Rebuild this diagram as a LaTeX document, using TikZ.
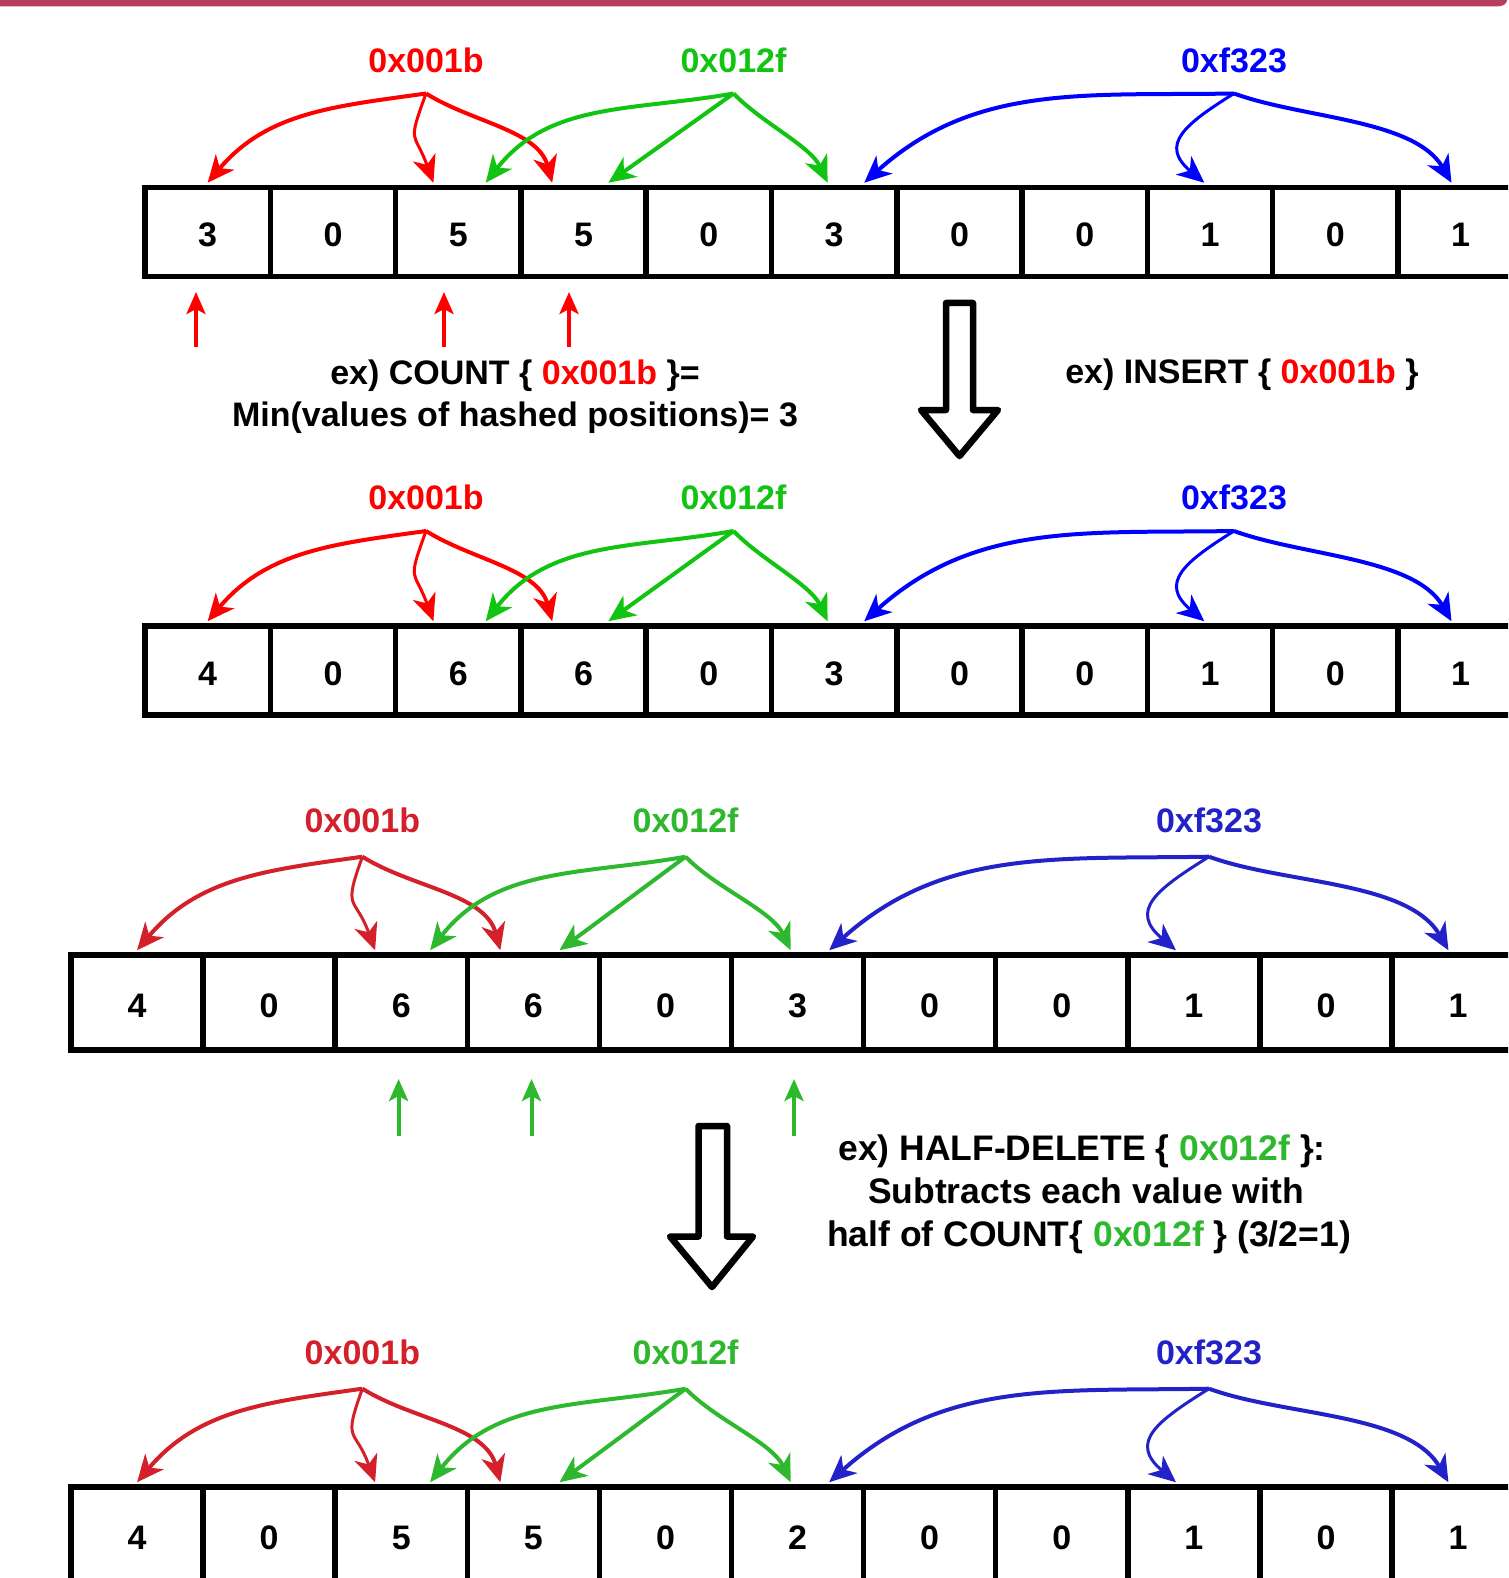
\documentclass[tikz,border=0pt]{standalone}
\usepackage{fontspec}
\setmainfont{Liberation Sans}
\usetikzlibrary{arrows.meta,calc}

\definecolor{barcol}{HTML}{B83D5F}
\definecolor{rA}{HTML}{FF0000}
\definecolor{gA}{HTML}{11C411}
\definecolor{bA}{HTML}{0000FF}
\definecolor{rB}{HTML}{D4202A}
\definecolor{gB}{HTML}{2EB82E}
\definecolor{bB}{HTML}{2222C8}

\tikzset{
  cell/.style={draw, line width=5.5pt, inner sep=0pt, text height=30pt, text depth=0pt,
    font=\fontsize{34}{40}\selectfont\bfseries},
  hlab/.style={font=\fontsize{34}{40}\selectfont\bfseries, inner sep=0pt},
  hasharrow/.style={line width=4pt, -{Stealth[length=27pt,width=24pt,inset=8pt]}},
  uparrow/.style={line width=4pt, -{Stealth[length=22pt,width=19pt,inset=5pt]}},
  bigarrow/.style={draw, line width=6.5pt, line join=round, fill=white},
  caption/.style={font=\fontsize{34}{40}\selectfont\bfseries, inner sep=0pt, anchor=base},
  bigcaption/.style={caption, font=\fontsize{35.5}{40}\selectfont\bfseries},
}

% #1 prefix, #2 left x, #3 cell width, #4 top y, #5 height, #6 values
\newcommand\cellrow[6]{%
  \foreach \v [count=\i from 0] in {#6}{%
    \node[cell, minimum width=#3pt, minimum height=#5pt] (#1c\i) at ({#2+(\i+0.5)*#3},{-#4-#5/2}) {\v};
  }%
}

% #1 prefix, #2 colour set, #3 red x, #4 green x, #5 blue x, #6 source y, #7 label y, #8 blue middle fraction
\newcommand\hashset[8]{%
  \node[hlab,text=r#2] (#1lr) at (#3,-#7) {0x001b};
  \node[hlab,text=g#2] (#1lg) at (#4,-#7) {0x012f};
  \node[hlab,text=b#2] (#1lb) at (#5,-#7) {0xf323};
  \coordinate (#1sr) at (#3,-#6);
  \coordinate (#1sg) at (#4,-#6);
  \coordinate (#1sb) at (#5,-#6);
  \coordinate (#1t1) at ($(#1c0.north west)!0.5!(#1c0.north east)+(0,2)$);
  \coordinate (#1t2) at ($(#1c2.north west)!0.31!(#1c2.north east)+(0,2)$);
  \coordinate (#1t3) at ($(#1c3.north west)!0.26!(#1c3.north east)+(0,2)$);
  \coordinate (#1t4) at ($(#1c2.north west)!0.71!(#1c2.north east)+(0,2)$);
  \coordinate (#1t5) at ($(#1c3.north west)!0.69!(#1c3.north east)+(0,2)$);
  \coordinate (#1t6) at ($(#1c5.north west)!0.45!(#1c5.north east)+(0,2)$);
  \coordinate (#1t7) at ($(#1c5.north west)!0.73!(#1c5.north east)+(0,2)$);
  \coordinate (#1t8) at ($(#1c8.north west)!#8!(#1c8.north east)+(0,2)$);
  \coordinate (#1t9) at ($(#1c10.north west)!0.43!(#1c10.north east)+(0,2)$);
  \draw[hasharrow,r#2] (#1sr) to[out=188,in=50] (#1t1);
  \draw[hasharrow,r#2,line width=3pt] (#1sr) to[out=250,in=110,looseness=1.6] (#1t2);
  \draw[hasharrow,r#2] (#1sr) to[out=-32,in=105,looseness=0.9] (#1t3);
  \draw[hasharrow,g#2] (#1sg) to[out=190,in=52] (#1t4);
  \draw[hasharrow,g#2] (#1sg) -- (#1t5);
  \draw[hasharrow,g#2] (#1sg) to[out=-46,in=115,looseness=0.8] (#1t6);
  \draw[hasharrow,b#2] (#1sb) to[out=181,in=42] (#1t7);
  \draw[hasharrow,b#2,line width=3pt] (#1sb) to[out=212,in=140,looseness=1.6] (#1t8);
  \draw[hasharrow,b#2] (#1sb) to[out=-20,in=120,looseness=0.8] (#1t9);
}

\begin{document}
\begin{tikzpicture}[x=1pt,y=1pt]
  \clip (0,0) rectangle (1508,-1578);
  \fill[white] (0,0) rectangle (1508,-1578);
  % top bar
  \fill[barcol] (0,0) -- (1507,0) .. controls (1507,-4) and (1503,-6.5) .. (1496,-6.5) -- (0,-6.5) -- cycle;

  % panel 1
  \cellrow{a}{145}{125.3}{187.5}{89}{3,0,5,5,0,3,0,0,1,0,1}
  \hashset{a}{A}{426}{733.5}{1234}{93.5}{60.4}{0.456}
  % panel 2
  \cellrow{b}{145}{125.3}{626}{89}{4,0,6,6,0,3,0,0,1,0,1}
  \hashset{b}{A}{426}{733.5}{1234}{531}{497.5}{0.456}
  % panel 3
  \cellrow{c}{71}{132.1}{955}{95}{4,0,6,6,0,3,0,0,1,0,1}
  \hashset{c}{B}{362.4}{685.6}{1209}{856.7}{820}{0.37}
  % panel 4
  \cellrow{d}{71}{132.1}{1487}{95}{4,0,5,5,0,2,0,0,1,0,1}
  \hashset{d}{B}{362.4}{685.6}{1209}{1388.7}{1352}{0.37}

  % red up arrows (COUNT)
  \coordinate (ru1s) at (196,-347);   \coordinate (ru1e) at (196,-292);
  \coordinate (ru2s) at (444,-347);   \coordinate (ru2e) at (444,-292);
  \coordinate (ru3s) at (569,-347);   \coordinate (ru3e) at (569,-292);
  \draw[uparrow,rA] (ru1s) -- (ru1e);
  \draw[uparrow,rA] (ru2s) -- (ru2e);
  \draw[uparrow,rA] (ru3s) -- (ru3e);

  % green up arrows (HALF-DELETE)
  \coordinate (gu1s) at (398.6,-1135.6); \coordinate (gu1e) at (398.6,-1079);
  \coordinate (gu2s) at (531.5,-1135.6); \coordinate (gu2e) at (531.5,-1079);
  \coordinate (gu3s) at (794,-1135.6);   \coordinate (gu3e) at (794,-1079);
  \draw[uparrow,gB] (gu1s) -- (gu1e);
  \draw[uparrow,gB] (gu2s) -- (gu2e);
  \draw[uparrow,gB] (gu3s) -- (gu3e);

  % big hollow arrows
  \draw[bigarrow] (946,-303) -- (973,-303) -- (973,-410) -- (998,-410) -- (959.5,-456) -- (921,-410) -- (946,-410) -- cycle;
  \draw[bigarrow] (698.5,-1126) -- (727,-1126) -- (727,-1236.5) -- (753,-1236.5) -- (712,-1287) -- (670,-1236.5) -- (698.5,-1236.5) -- cycle;

  % captions
  \node[caption] (cnt1) at (515,-384.5) {ex) COUNT \{ \textcolor{rA}{0x001b} \}=};
  \node[caption] (cnt2) at (515,-426) {Min(values of hashed positions)= 3};
  \node[caption] (ins) at (1242,-383.5) {ex) INSERT \{ \textcolor{rA}{0x001b} \}};
  \node[bigcaption] (hd1) at (1082,-1160) {ex) HALF-DELETE \{ \textcolor{gB}{0x012f} \}:};
  \node[bigcaption] (hd2) at (1086,-1203) {Subtracts each value with};
  \node[bigcaption] (hd3) at (1089,-1246) {half of COUNT\{ \textcolor{gB}{0x012f} \} (3/2=1)};
\end{tikzpicture}
\end{document}
